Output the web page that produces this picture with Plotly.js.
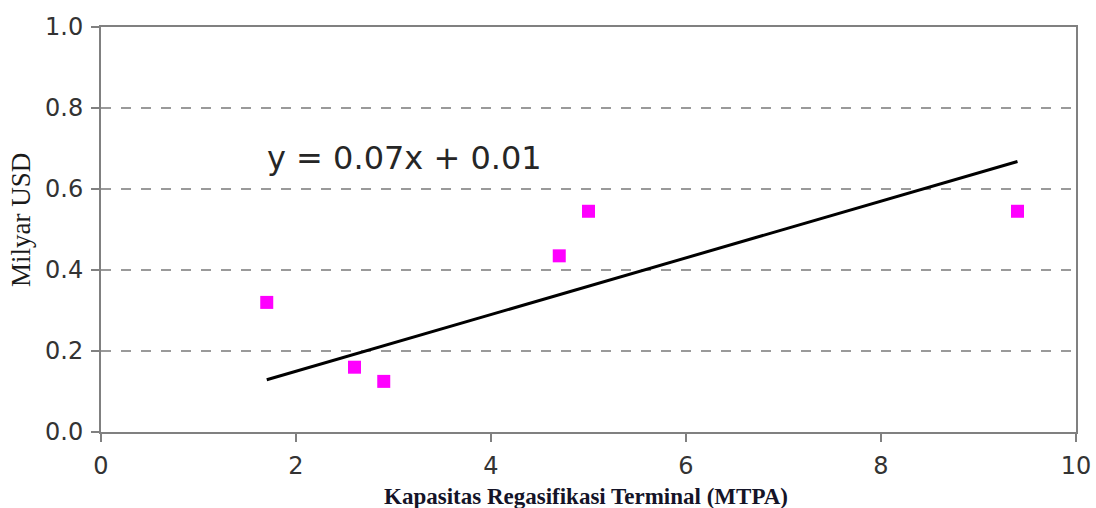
<!DOCTYPE html>
<html>
<head>
<meta charset="utf-8">
<script src="https://cdn.plot.ly/plotly-3.0.1.min.js"></script>
<style>
  html, body { margin: 0; padding: 0; background: #ffffff; }
  #chart { width: 1096px; height: 508px; }
</style>
</head>
<body>
<div id="chart"></div>
<script>
// Terminal regasification capacity (MTPA) vs. cost (billion USD)
const capacityMTPA = [1.7, 2.6, 2.9, 4.7, 5.0, 9.4];
const costBillionUSD = [0.32, 0.16, 0.125, 0.435, 0.545, 0.545];

// Linear fit stated on the chart: y = 0.07x + 0.01
const fitSlope = 0.07;
const fitIntercept = 0.01;
const fitLabel = 'y = 0.07x + 0.01';

const xTicks = [0, 2, 4, 6, 8, 10];
const yTicks = [0.0, 0.2, 0.4, 0.6, 0.8, 1.0];
const yTickText = ['0.0', '0.2', '0.4', '0.6', '0.8', '1.0'];

const xTitle = 'Kapasitas Regasifikasi Terminal (MTPA)';
const yTitle = 'Milyar USD';

// Fit line spans the range of the observed capacities
const fitX = [Math.min(...capacityMTPA), Math.max(...capacityMTPA)];
const fitY = fitX.map(x => fitSlope * x + fitIntercept);

const axisGray = '#808080';
const tickFont = { family: 'DejaVu Sans, Arial, sans-serif', size: 24, color: '#333333' };

const marginL = 101, marginR = 20, marginT = 27, marginB = 76;
const plotW = 1096 - marginL - marginR;
const plotH = 508 - marginT - marginB;

const traces = [
  {
    x: fitX,
    y: fitY,
    mode: 'lines',
    line: { color: '#000000', width: 3 },
    hoverinfo: 'skip',
    showlegend: false
  },
  {
    x: capacityMTPA,
    y: costBillionUSD,
    mode: 'markers',
    marker: { symbol: 'square', size: 13, color: '#ff00ff' },
    showlegend: false
  }
];

const axisCommon = {
  zeroline: false,
  showline: true,
  linecolor: axisGray,
  linewidth: 2,
  mirror: true,
  ticks: 'outside',
  ticklen: 8,
  tickwidth: 2,
  tickcolor: axisGray,
  tickfont: tickFont,
  ticklabelstandoff: 3,
  fixedrange: true
};

const layout = {
  width: 1096,
  height: 508,
  margin: { l: marginL, r: marginR, t: marginT, b: marginB },
  paper_bgcolor: '#ffffff',
  plot_bgcolor: '#ffffff',
  showlegend: false,
  xaxis: Object.assign({}, axisCommon, {
    range: [0, 10],
    tickvals: xTicks,
    ticktext: xTicks.map(String),
    showgrid: false
  }),
  yaxis: Object.assign({}, axisCommon, {
    range: [0, 1.0],
    tickvals: yTicks,
    ticktext: yTickText,
    showgrid: true,
    gridcolor: '#9a9a9a',
    gridwidth: 2,
    griddash: '10px,10px'
  }),
  annotations: [
    {
      text: fitLabel,
      x: 1.68,
      y: 0.677,
      xref: 'x',
      yref: 'y',
      xanchor: 'left',
      yanchor: 'middle',
      showarrow: false,
      font: { family: 'DejaVu Sans, Arial, sans-serif', size: 32, color: '#262626' }
    },
    {
      text: '<b>' + xTitle + '</b>',
      x: (586 - marginL) / plotW,
      y: -(496 - (508 - marginB)) / plotH,
      xref: 'paper',
      yref: 'paper',
      xanchor: 'center',
      yanchor: 'middle',
      showarrow: false,
      font: { family: 'Liberation Serif, Times New Roman, serif', size: 23, color: '#141428' }
    },
    {
      text: yTitle,
      x: -(marginL - 21) / plotW,
      y: ((508 - marginB) - 220) / plotH,
      xref: 'paper',
      yref: 'paper',
      xanchor: 'center',
      yanchor: 'middle',
      textangle: -90,
      showarrow: false,
      font: { family: 'Liberation Serif, Times New Roman, serif', size: 27, color: '#1a1a1a' }
    }
  ]
};

Plotly.newPlot('chart', traces, layout, { displayModeBar: false, staticPlot: true });
</script>
</body>
</html>
